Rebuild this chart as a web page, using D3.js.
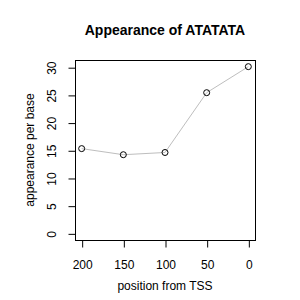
<!DOCTYPE html>
<html>
<head>
<meta charset="utf-8">
<script src="https://cdn.jsdelivr.net/npm/d3@7"></script>
<style>
  body { margin: 0; background: #fff; }
  text { font-family: "Liberation Sans", Arial, sans-serif; fill: #000; }
</style>
</head>
<body>
<div id="chart"></div>
<script>
// data
var positions = [200, 150, 100, 50, 0];
var appearance = [15.3, 14.2, 14.6, 25.4, 30.1];
var xTicks = [200, 150, 100, 50, 0];
var yTicks = [0, 5, 10, 15, 20, 25, 30];

var W = 300, H = 300;
var box = {left: 75, right: 255, top: 60, bottom: 240};

var svg = d3.select('#chart').append('svg')
  .attr('width', W)
  .attr('height', H);

// R style 4% padding on both ends
var x = d3.scaleLinear().domain([208, -8]).range([box.left, box.right]);
var y = d3.scaleLinear().domain([-1.2, 31.3]).range([box.bottom, box.top]);

// points + line
var pts = positions.map(function(p, i) { return {x: p, y: appearance[i]}; });

svg.append('path')
  .datum(pts)
  .attr('fill', 'none')
  .attr('stroke', '#bebebe')
  .attr('stroke-width', 1)
  .attr('d', d3.line().x(function(d) { return x(d.x); }).y(function(d) { return y(d.y); }));

svg.selectAll('circle.pt')
  .data(pts)
  .enter()
  .append('circle')
  .attr('class', 'pt')
  .attr('cx', function(d) { return x(d.x); })
  .attr('cy', function(d) { return y(d.y); })
  .attr('r', 3)
  .attr('fill', 'none')
  .attr('stroke', '#000')
  .attr('stroke-width', 1);

// box
svg.append('rect')
  .attr('x', box.left + 0.5)
  .attr('y', box.top + 0.5)
  .attr('width', box.right - box.left)
  .attr('height', box.bottom - box.top)
  .attr('fill', 'none')
  .attr('stroke', '#000');

// x axis
var gx = svg.append('g')
  .attr('transform', 'translate(0.5,' + (box.bottom + 0.5) + ')')
  .call(d3.axisBottom(x).tickValues(xTicks).tickSize(7).tickPadding(13).tickSizeOuter(0));
gx.select('.domain').attr('d', 'M' + x(200) + ',0H' + x(0));
gx.selectAll('text').attr('font-size', 12).attr('font-family', '"Liberation Sans", Arial, sans-serif');

// y axis
var gy = svg.append('g')
  .attr('transform', 'translate(' + (box.left + 0.5) + ',0.5)')
  .call(d3.axisLeft(y).tickValues(yTicks).tickSize(7).tickSizeOuter(0));
gy.select('.domain').attr('d', 'M0,' + y(0) + 'V' + y(30));
gy.selectAll('.tick text')
  .attr('font-size', 12)
  .attr('font-family', '"Liberation Sans", Arial, sans-serif')
  .attr('x', null)
  .attr('dy', null)
  .attr('text-anchor', 'middle')
  .attr('transform', 'translate(-20,0) rotate(-90)');

// titles
svg.append('text')
  .attr('x', 165)
  .attr('y', 35)
  .attr('text-anchor', 'middle')
  .attr('font-size', 14)
  .attr('font-weight', 'bold')
  .text('Appearance of ATATATA');

svg.append('text')
  .attr('x', 165)
  .attr('y', 290)
  .attr('text-anchor', 'middle')
  .attr('font-size', 12)
  .text('position from TSS');

svg.append('text')
  .attr('transform', 'translate(34,150) rotate(-90)')
  .attr('text-anchor', 'middle')
  .attr('font-size', 12)
  .text('appearance per base');
</script>
</body>
</html>
